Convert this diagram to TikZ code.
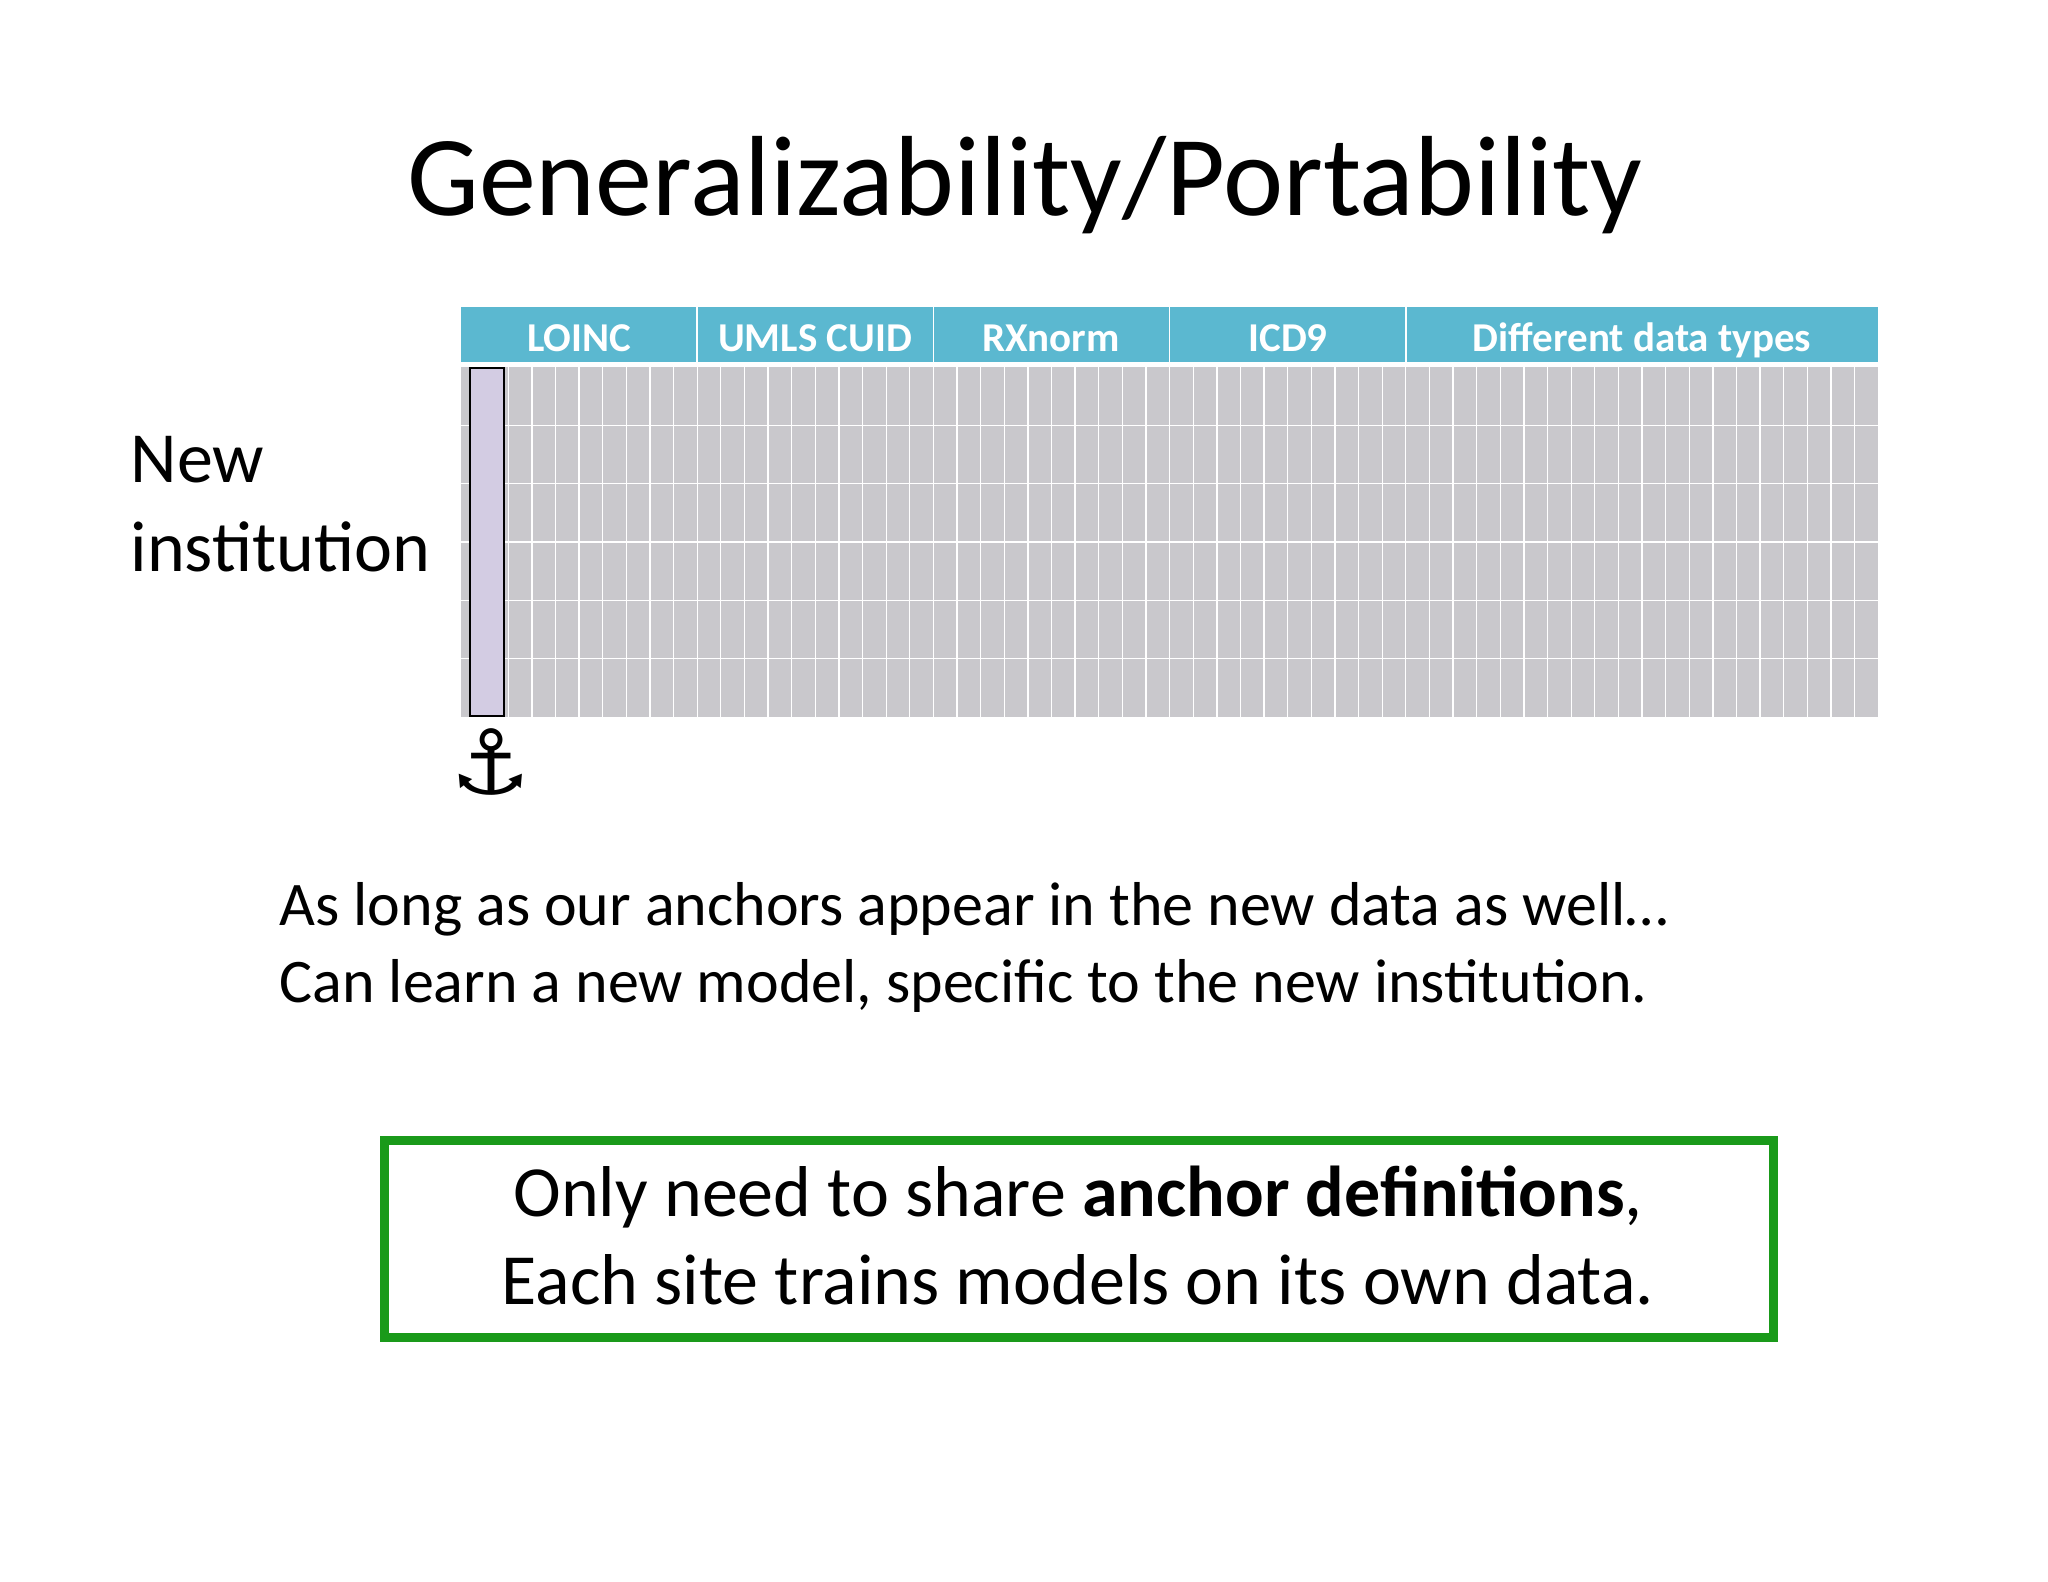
\documentclass[tikz,border=0pt]{standalone}
\usepackage{fontspec}
\setmainfont{Carlito}
\newfontfamily\symfont{DejaVu Sans}
\definecolor{hdr}{HTML}{5BB8D0}
\definecolor{cellg}{HTML}{C9C8CC}
\definecolor{lav}{HTML}{D3CCE3}
\definecolor{grn}{HTML}{1A9A1A}
\begin{document}
\begin{tikzpicture}[x=1pt,y=-1pt,
  hdrtxt/.style={text=white,font=\fontsize{41}{44}\selectfont\bfseries,anchor=base},
  body/.style={anchor=base west,font=\fontsize{62}{70}\selectfont}]
\useasboundingbox (0,0) rectangle (2048,1582);
\fill[white] (0,0) rectangle (2048,1582);
\node[anchor=base,font=\fontsize{114}{124}\selectfont] (title) at (1025,215) {Generalizability/Portability};
% header
\fill[hdr] (461,307) rectangle (1878,362);
\foreach \i in {1,2,3,4}{\draw[white,line width=1.5] ({461+\i*236.2},307) -- ({461+\i*236.2},362);}
\node[hdrtxt] (h1) at (579,351) {LOINC};
\node[hdrtxt] (h2) at (815,351) {UMLS CUID};
\node[hdrtxt] (h3) at (1051,351) {RXnorm};
\node[hdrtxt] (h4) at (1288,351) {ICD9};
\node[hdrtxt] (h5) at (1642,351) {Different data types};
% grid
\fill[cellg] (461,367) rectangle (1878,717);
\foreach \i in {1,...,59}{\draw[white,line width=1.3] ({461+\i*23.62},367) -- ({461+\i*23.62},717);}
\foreach \j in {1,...,5}{\draw[white,line width=1.3] (461,{367+\j*58.33}) -- (1878,{367+\j*58.33});}
\draw[fill=lav,line width=1.8] (470,368) rectangle (504,716);
\node[font=\symfont\fontsize{90}{92}\selectfont] (anc) at (491,762) {⚓};
\node[anchor=base west,font=\fontsize{72}{89}\selectfont,align=left] (ni) at (127,571) {New\\institution};
\node[body] (l1) at (276,925) {As long as our anchors appear in the new data as well…};
\node[body] (l2) at (276,1002) {Can learn a new model, specific to the new institution.};
\draw[grn,line width=9] (384,1140) rectangle (1773,1337);
\node[anchor=base,font=\fontsize{72}{88}\selectfont] (b1) at (1078,1216) {Only need to share \textbf{anchor definitions},};
\node[anchor=base,font=\fontsize{72}{88}\selectfont] (b2) at (1078,1304) {Each site trains models on its own data.};
\end{tikzpicture}
\end{document}
